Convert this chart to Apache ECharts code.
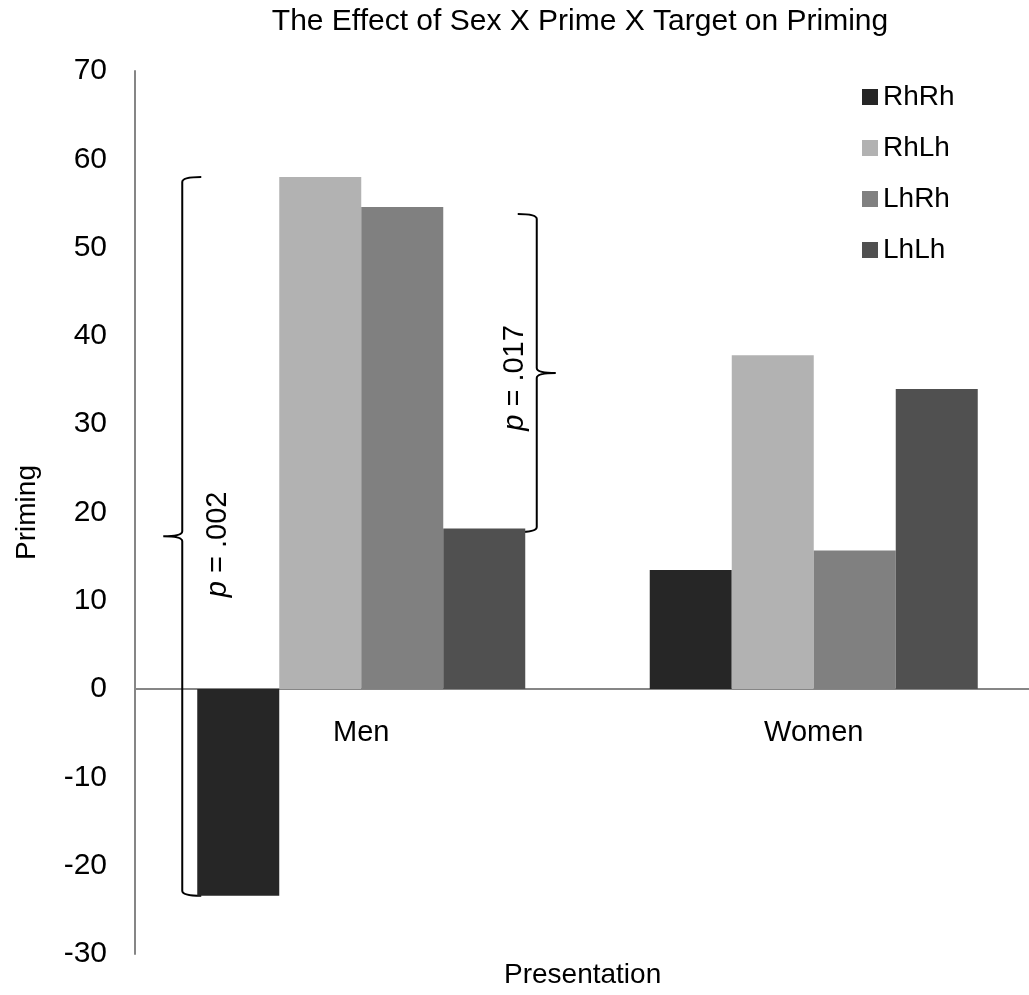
<!DOCTYPE html>
<html><head><meta charset="utf-8">
<script src="https://cdn.jsdelivr.net/npm/echarts@6/dist/echarts.min.js"></script>
<style>html,body{margin:0;padding:0;background:#fff}#c{width:1029px;height:995px}</style>
</head><body><div id="c"></div>
<script>
const categories = ['Men', 'Women'];
const seriesNames = ['RhRh', 'RhLh', 'LhRh', 'LhLh'];
const RhRh = [-23.4, 13.5];
const RhLh = [58.0, 37.8];
const LhRh = [54.6, 15.7];
const LhLh = [18.2, 34.0];
const yTicks = [-30, -20, -10, 0, 10, 20, 30, 40, 50, 60, 70];
// brace annotations (Men group)
const braceTops = [58.0, 53.8];
const braceBottoms = [-23.4, 17.8];
const braceSides = [-1, 1];
const braceLabels = ['.002', '.017'];

const colors = ['#262626', '#b2b2b2', '#808080', '#505050'];
const seriesData = [RhRh, RhLh, LhRh, LhLh];
const FONT = 'Liberation Sans, Arial, sans-serif';

function bracePath(x, yTop, yBot, side, hook, tip) {
  const m = (yTop + yBot) / 2;
  const h = -side * hook, t = side * tip;
  return `M${x+h},${yTop} Q${x},${yTop} ${x},${yTop+5} L${x},${m-5} Q${x},${m} ${x+t},${m} Q${x},${m} ${x},${m+5} L${x},${yBot-5} Q${x},${yBot} ${x+h},${yBot}`;
}

const braceData = braceTops.map((t, i) => [0, t, braceBottoms[i], braceSides[i]]);
const catLabelData = categories.map((c, i) => [i, 0]);

const chart = echarts.init(document.getElementById('c'));
chart.setOption({
  animation: false,
  backgroundColor: '#fff',
  title: {
    text: 'The Effect of Sex X Prime X Target on Priming',
    left: 580, top: 7, padding: 0, textAlign: 'center',
    textStyle: {fontFamily: FONT, fontSize: 30, fontWeight: 'normal', color: '#000'}
  },
  legend: {
    orient: 'vertical', left: 862, top: 83, padding: 0,
    itemWidth: 16, itemHeight: 16, itemGap: 23,
    icon: 'rect',
    textStyle: {fontFamily: FONT, fontSize: 28, color: '#000'},
    data: seriesNames
  },
  grid: {left: 135, right: -11, top: 71, bottom: 41, containLabel: false, outerBoundsMode: 'none'},
  xAxis: {
    type: 'category', data: categories,
    axisLine: {show: true, onZero: true, lineStyle: {color: '#868686', width: 2}},
    axisTick: {show: false},
    axisLabel: {show: false}
  },
  yAxis: {
    type: 'value', min: yTicks[0], max: yTicks[yTicks.length-1], interval: 10,
    axisLine: {show: true, lineStyle: {color: '#868686', width: 2}},
    axisTick: {show: false},
    splitLine: {show: false},
    axisLabel: {fontFamily: FONT, fontSize: 30, color: '#000', margin: 28},
    name: 'Priming', nameLocation: 'middle', nameGap: 94, nameRotate: 90,
    nameTextStyle: {fontFamily: FONT, fontSize: 28, color: '#000'}
  },
  graphic: [
    {type: 'text', left: 586 - 82, top: 961,
      style: {text: 'Presentation', fontFamily: FONT, fontSize: 28, fill: '#000'}}
  ],
  series: seriesNames.map((n, i) => ({
    name: n, type: 'bar', data: seriesData[i],
    barWidth: 82, barGap: '0%',
    itemStyle: {color: colors[i]}
  })).concat([{
    type: 'custom', name: 'categoryLabels', silent: true,
    data: catLabelData,
    encode: {x: 0, y: 1},
    renderItem: function (params, api) {
      const p = api.coord([api.value(0), api.value(1)]);
      return {type: 'text', x: p[0], y: p[1] + 44,
        style: {text: categories[params.dataIndex], fontFamily: FONT, fontSize: 29, fill: '#000',
          align: 'center', verticalAlign: 'middle'}};
    }
  }, {
    type: 'custom', name: 'braces', silent: true,
    data: braceData,
    encode: {x: 0, y: [1, 2]},
    renderItem: function (params, api) {
      const cat = api.value(0);
      const side = api.value(3);
      const top = api.coord([cat, api.value(1)]);
      const bot = api.coord([cat, api.value(2)]);
      const x = top[0] + (side < 0 ? -179 : 175.5);
      const m = (top[1] + bot[1]) / 2;
      const lbl = braceLabels[params.dataIndex];
      return {
        type: 'group',
        children: [
          {type: 'path', shape: {pathData: bracePath(x, top[1], bot[1], side, 19, 19)},
            style: {fill: 'none', stroke: '#000', lineWidth: 2}},
          {type: 'text', x: side < 0 ? x + 36 : x - 22, y: side < 0 ? m + 8 : m + 5, rotation: Math.PI / 2,
            style: {text: '{i|p} = ' + lbl,
              rich: {i: {fontStyle: 'italic', fontFamily: FONT, fontSize: 29, fill: '#000'}},
              fontFamily: FONT, fontSize: 29, fill: '#000', align: 'center', verticalAlign: 'middle'}}
        ]
      };
    }
  }])
});
</script></body></html>
